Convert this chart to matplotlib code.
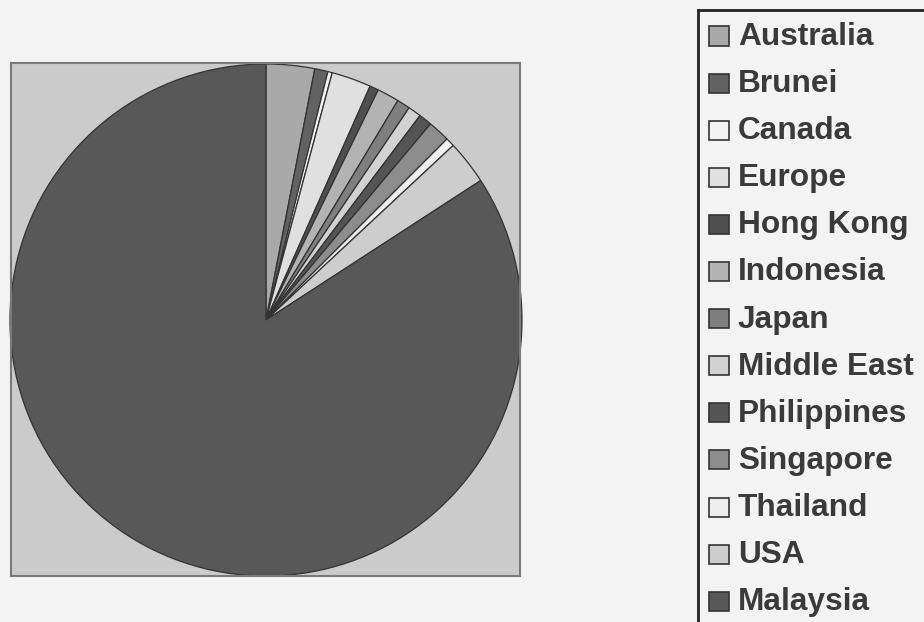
import matplotlib
matplotlib.use("Agg")
import matplotlib.pyplot as plt
from matplotlib.patches import Rectangle

# ---- data ----
regions = ["Australia", "Brunei", "Canada", "Europe", "Hong Kong", "Indonesia",
           "Japan", "Middle East", "Philippines", "Singapore", "Thailand", "USA",
           "Malaysia"]
members = [11, 3, 1, 9, 2, 5, 3, 3, 3, 5, 2, 10, 303]
colors = ["#a9a9a9", "#626262", "#f2f2f2", "#e0e0e0", "#4f4f4f", "#b3b3b3",
          "#7f7f7f", "#d2d2d2", "#555555", "#8d8d8d", "#eeeeee", "#cdcdcd",
          "#585858"]

W, H = 924, 622
fig = plt.figure(figsize=(W / 100, H / 100), dpi=100)
fig.patch.set_facecolor("#f3f3f3")

# plot area (pixel box 11..520 x 63..576)
x0, x1, y0, y1 = 11, 520, 63, 576
ax = fig.add_axes([x0 / W, 1 - y1 / H, (x1 - x0) / W, (y1 - y0) / H])

wedges, _ = ax.pie(members, colors=colors, startangle=90, counterclock=False,
                   radius=1.0, center=(0, 0), frame=True,
                   wedgeprops=dict(edgecolor="#333333", linewidth=0.9))
ax.set_facecolor("#cbcbcb")
for s in ax.spines.values():
    s.set_visible(True)
    s.set_color("#7a7a7a")
    s.set_linewidth(1.5)
ax.set_xticks([])
ax.set_yticks([])
cx, cy, r = 266, 320, 256
ax.set_aspect("auto")
ax.set_xlim((x0 - cx) / r, (x1 - cx) / r)
ax.set_ylim((cy - y1) / r, (cy - y0) / r)

# legend (box runs off the right and bottom edges)
lx, ly = 698, 10
fig.patches.append(Rectangle((lx / W, -0.2), 1.2, 1.2 - ly / H,
                             transform=fig.transFigure, facecolor="none",
                             edgecolor="#222222", linewidth=2.0, zorder=5))
row0, step = 36, 47.1
for i, (name, col) in enumerate(zip(regions, colors)):
    yc = row0 + i * step
    fig.patches.append(Rectangle((709 / W, 1 - (yc + 9.5) / H), 20 / W, 19 / H,
                                 transform=fig.transFigure, facecolor=col,
                                 edgecolor="#333333", linewidth=1.2, zorder=6))
    fig.text(738 / W, 1 - (yc + 1) / H, name, fontsize=22.8, fontweight="bold",
             family="Liberation Sans", color="#3a3a3a", va="center", ha="left",
             zorder=6)

fig.savefig("out.png", dpi=100, facecolor=fig.get_facecolor())
